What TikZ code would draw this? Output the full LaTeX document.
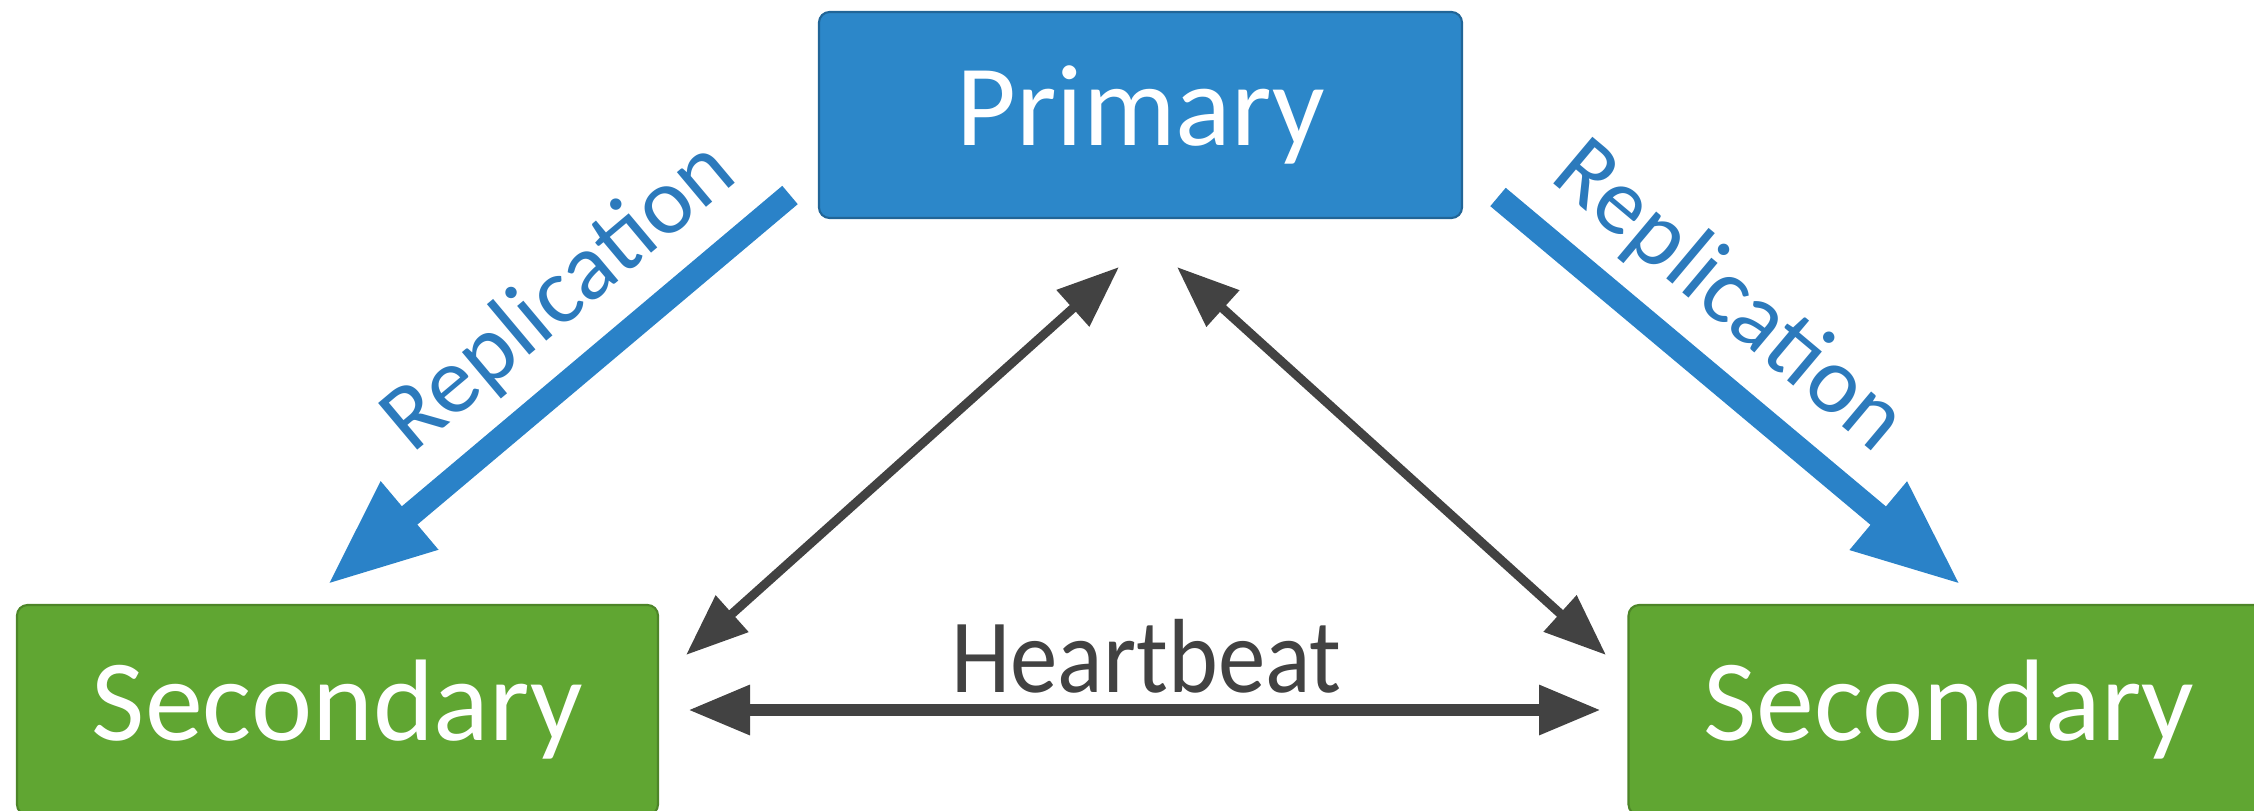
\documentclass[tikz,border=0pt]{standalone}
\usepackage{fontspec}
\setmainfont{Carlito}
\newfontfamily\narrowfont{Carlito}[FakeStretch=0.9]
\usetikzlibrary{arrows.meta}
\definecolor{mblue}{RGB}{44,135,201}
\definecolor{mblueline}{RGB}{42,130,200}
\definecolor{mbluetext}{RGB}{44,122,188}
\definecolor{mgreen}{RGB}{96,166,50}
\definecolor{mgray}{RGB}{66,66,66}
\tikzset{primary/.style={rectangle, rounded corners=3pt, fill=mblue, draw=mblue!75!black, line width=0.6pt, text=white, minimum width=6.43cm, minimum height=2.06cm, font=\fontsize{33}{40}\selectfont}}
\tikzset{secondary/.style={rectangle, rounded corners=3pt, fill=mgreen, draw=mgreen!80!black, line width=0.6pt, text=white, minimum width=6.41cm, minimum height=2.1cm, font=\fontsize{33}{40}\selectfont}}
\tikzset{repl/.style={line width=0.24cm, mblueline, -{Triangle[length=1.08cm,width=0.82cm]}}}
\tikzset{beat/.style={line width=0.09cm, mgray, {Triangle[length=0.62cm,width=0.47cm]}-{Triangle[length=0.62cm,width=0.47cm]}}}
\tikzset{hbeat/.style={beat, line width=0.125cm}}
\tikzset{repllabel/.style={text=mbluetext, anchor=base, inner sep=0pt, font=\fontsize{27}{32}\selectfont}}
\tikzset{beatlabel/.style={text=mgray, anchor=base, inner sep=0pt, font=\narrowfont\fontsize{30}{36}\selectfont}}

\begin{document}
\begin{tikzpicture}
\useasboundingbox (0,0) rectangle (22.54,8.10);
\node (prim) at (11.405,6.95)[primary]{Primary};
\node (secl) at (3.375,1.0)[secondary]{Secondary};
\node (secr) at (19.49,1.0)[secondary]{Secondary};
\coordinate (rlA) at (7.90,6.15);
\coordinate (rlB) at (3.27,2.25);
\coordinate (rrA) at (14.98,6.13);
\coordinate (rrB) at (19.61,2.25);
\coordinate (hlA) at (11.19,5.43);
\coordinate (hlB) at (6.86,1.55);
\coordinate (hrA) at (11.77,5.43);
\coordinate (hrB) at (16.06,1.55);
\coordinate (hbA) at (6.88,1.00);
\coordinate (hbB) at (16.01,1.00);
\draw[repl] (rlA)--(rlB);
\draw[repl] (rrA)--(rrB);
\node (repl1) at (5.76,4.93)[repllabel, rotate=40]{Replication};
\node (repl2) at (17.12,4.93)[repllabel, rotate=-40]{Replication};
\draw[beat] (hlA)--(hlB);
\draw[beat] (hrA)--(hrB);
\draw[hbeat] (hbA)--(hbB);
\node (hb) at (11.465,1.18)[beatlabel]{Heartbeat};
\end{tikzpicture}
\end{document}
